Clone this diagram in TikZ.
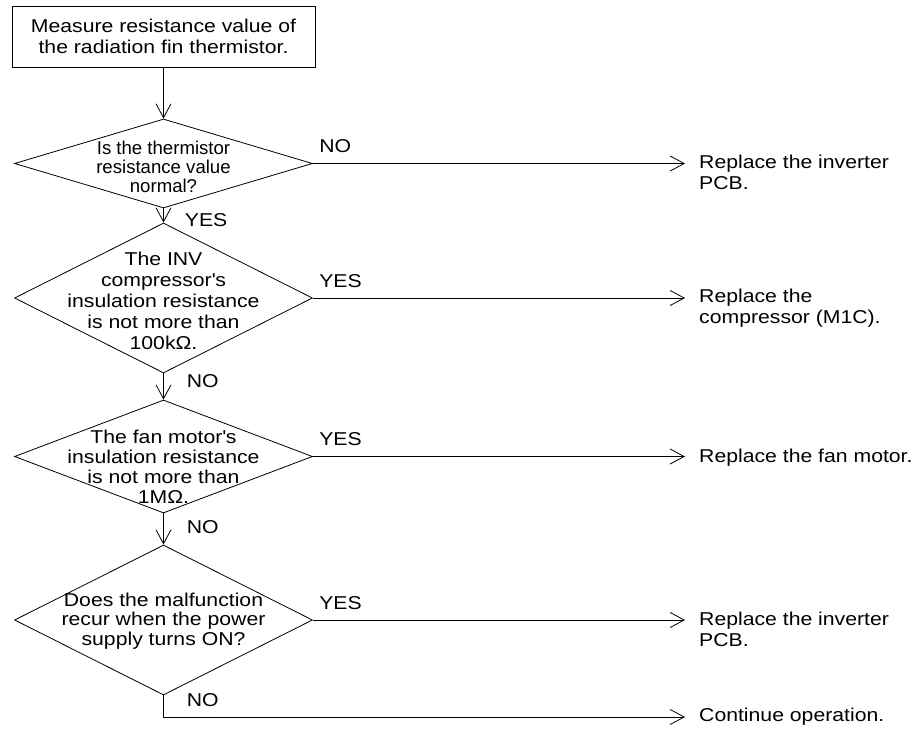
\documentclass[tikz,border=0pt]{standalone}
\usepackage{fontspec}
\setmainfont{Liberation Sans}[FakeStretch=1.14]
\newfontfamily\plainsans{Liberation Sans}
\usetikzlibrary{shapes.geometric,arrows.meta}

\tikzset{
  every node/.style={font=\fontsize{18.6}{21}\selectfont},
  flow/.style={line width=0.8pt, -{Straight Barb[length=14pt,width=15pt]}},
  stepbox/.style={draw, line width=0.8pt, minimum width=303pt, minimum height=61pt, align=center},
  query/.style={draw, diamond, line width=0.8pt, inner sep=0pt, minimum width=298pt},
  qtext/.style={align=center, inner sep=0pt},
  result/.style={align=left, inner sep=0pt, anchor=north west},
  lbl/.style={inner sep=0pt},
}

\begin{document}
\begin{tikzpicture}[x=1pt,y=-1pt]
  \useasboundingbox (0,0) rectangle (924,730);

  \node[stepbox] (start) at (163.5,36.5) {Measure resistance value of\\the radiation fin thermistor.};

  % checks
  \node[query, minimum height=89pt]  (q1) at (163.5,163.5) {};
  \node[query, minimum height=150pt] (q2) at (163.5,298) {};
  \node[query, minimum height=113pt] (q3) at (163.5,456.5) {};
  \node[query, minimum height=150pt] (q4) at (163.5,620) {};

  \node[qtext, font=\plainsans\fontsize{18.6}{19}\selectfont] (q1txt) at (163.5,167)
    {Is the thermistor\\resistance value\\normal?};
  \node[qtext] (q2txt) at (163.5,301)
    {The INV\\compressor\textquotesingle s\\insulation resistance\\is not more than\\100kΩ.};
  \node[qtext, font=\fontsize{18.6}{20}\selectfont] (q3txt) at (163.5,467)
    {The fan motor\textquotesingle s\\insulation resistance\\is not more than\\1MΩ.};
  \node[qtext, font=\fontsize{18.6}{19.5}\selectfont] (q4txt) at (163.5,621)
    {Does the malfunction\\recur when the power\\supply turns ON?};

  % outcomes
  \node[result] (r1) at (699,155) {Replace the inverter\\PCB.};
  \node[result] (r2) at (699,289) {Replace the\\compressor (M1C).};
  \node[result] (r3) at (699,449) {Replace the fan motor.};
  \node[result] (r4) at (699,612) {Replace the inverter\\PCB.};
  \node[result, anchor=west] (r5) at (699,717) {Continue operation.};

  \draw[flow] (start.south) -- (q1.north);
  \draw[flow] (q1.south) -- node[lbl, pos=.8, right=21pt] {YES} (q2.north);
  \draw[flow] (q2.south) -- node[lbl, pos=.28, right=23pt] {NO} (q3.north);
  \draw[flow] (q3.south) -- node[lbl, pos=.45, right=23pt] {NO} (q4.north);

  \draw[flow, shorten >=14pt] (q1.east) -- node[lbl, pos=0, anchor=south west, xshift=6pt, yshift=10pt] {NO} (q1.east -| r1.west);
  \draw[flow, shorten >=14pt] (q2.east) -- node[lbl, pos=0, anchor=south west, xshift=6pt, yshift=10pt] {YES} (q2.east -| r2.west);
  \draw[flow, shorten >=14pt] (q3.east) -- node[lbl, pos=0, anchor=south west, xshift=6pt, yshift=10pt] {YES} (q3.east -| r3.west);
  \draw[flow, shorten >=14pt] (q4.east) -- node[lbl, pos=0, anchor=south west, xshift=6pt, yshift=10pt] {YES} (q4.east -| r4.west);
  \draw[flow, shorten >=14pt] (q4.south) |- node[lbl, pos=.1, right=23pt] {NO} (r5.west);
\end{tikzpicture}
\end{document}
